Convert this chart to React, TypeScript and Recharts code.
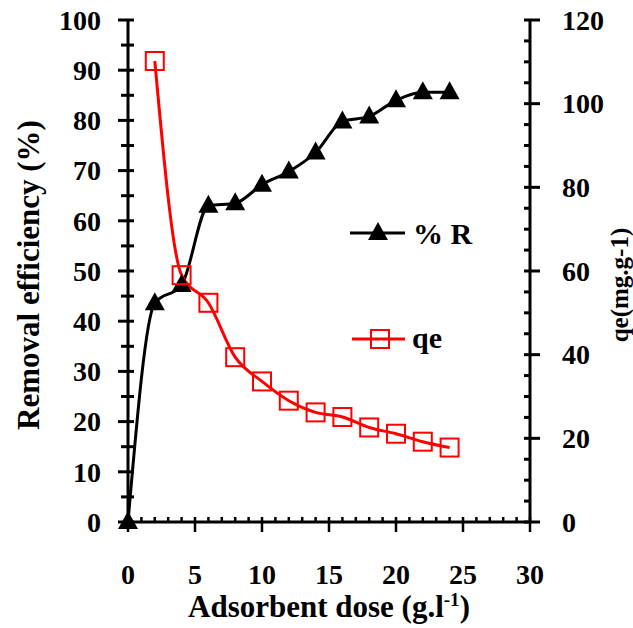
import React from "react"
import { LineChart, Line, XAxis, YAxis, Legend } from "recharts"

const dose = [0, 2, 4, 6, 8, 10, 12, 14, 16, 18, 20, 22, 24]
const removal = [0, 43.6, 47.2, 63, 63.5, 67.2, 69.8, 73.6, 79.8, 80.8, 84, 85.6, 85.6]
const qe = [null, 110.2, 59, 52.4, 39.4, 33.6, 29, 26.2, 25.1, 22.6, 21.1, 19.2, 17.8]

const xTicks = Array.from({ length: 31 }, (_, i) => i)
const leftTicks = Array.from({ length: 21 }, (_, i) => i * 5)
const rightTicks = Array.from({ length: 25 }, (_, i) => i * 5)

const data = dose.map((d, i) => ({ dose: d, pctR: removal[i], qe: qe[i] }))

const FONT = "'Liberation Serif', 'Times New Roman', serif"
const RED = "#ff0000"

const Triangle = (props: any) => {
  const { cx, cy } = props
  if (cx == null || cy == null) return null
  return <polygon points={`${cx},${cy - 11} ${cx - 10},${cy + 7} ${cx + 10},${cy + 7}`} fill="#000" />
}

const Square = (props: any) => {
  const { cx, cy } = props
  if (cx == null || cy == null) return null
  return <rect x={cx - 9} y={cy - 9} width={18} height={18} fill="none" stroke={RED} strokeWidth={2} />
}

const LeftTick = ({ x, y, payload }: any) => {
  const major = payload.value % 10 === 0
  return (
    <g>
      <line x1={major ? x - 10 : x - 7} x2={x + 6} y1={y} y2={y} stroke="#000" strokeWidth={3} />
      {major && (
        <text x={x - 27} y={y} dy="0.35em" textAnchor="end" fontFamily={FONT} fontWeight="bold" fontSize={28} fill="#000">
          {payload.value}
        </text>
      )}
    </g>
  )
}

const RightTick = ({ x, y, payload }: any) => {
  const major = payload.value % 20 === 0
  return (
    <g>
      <line x1={x - 6} x2={major ? x + 10 : x} y1={y} y2={y} stroke="#000" strokeWidth={3} />
      {major && (
        <text x={x + 32} y={y} dy="0.35em" textAnchor="start" fontFamily={FONT} fontWeight="bold" fontSize={28} fill="#000">
          {payload.value}
        </text>
      )}
    </g>
  )
}

const BottomTick = ({ x, y, payload }: any) => {
  const major = payload.value % 5 === 0
  return (
    <g>
      <line x1={x} x2={x} y1={y - 5} y2={major ? y + 10 : y} stroke="#000" strokeWidth={2.5} />
      {major && (
        <text x={x} y={y + 62} textAnchor="middle" fontFamily={FONT} fontWeight="bold" fontSize={28} fill="#000">
          {payload.value}
        </text>
      )}
    </g>
  )
}

const LegendBox = () => (
  <svg width={170} height={150}>
    <line x1={10} x2={65} y1={22} y2={22} stroke="#000" strokeWidth={3} />
    <polygon points="38,11 28,29 48,29" fill="#000" />
    <text x={73} y={33} fontFamily={FONT} fontWeight="bold" fontSize={30} fill="#000">% R</text>
    <line x1={12} x2={65} y1={128} y2={128} stroke={RED} strokeWidth={3} />
    <rect x={31} y={119} width={18} height={18} fill="none" stroke={RED} strokeWidth={2} />
    <text x={72} y={137} fontFamily={FONT} fontWeight="bold" fontSize={30} fill="#000">qe</text>
  </svg>
)

export default function App() {
  return (
    <div style={{ position: "absolute", left: 0, top: 0, width: 633, height: 628, background: "#fff" }}>
      <LineChart width={633} height={628} data={data} margin={{ top: 20, right: 0, bottom: 0, left: 0 }}>
        <XAxis
          dataKey="dose"
          type="number"
          domain={[0, 30]}
          ticks={xTicks}
          interval={0}
          height={106}
          tickSize={0}
          tickMargin={0}
          tick={<BottomTick />}
          axisLine={{ stroke: "#000", strokeWidth: 3 }}
          tickLine={false}
          label={{
            content: () => (
              <text x={329} y={617} textAnchor="middle" fontFamily={FONT} fontWeight="bold" fontSize={31} fill="#000">
                Adsorbent dose (g.l<tspan dy={-11} fontSize={19}>-1</tspan><tspan dy={11}>)</tspan>
              </text>
            ),
          }}
        />
        <YAxis
          yAxisId="left"
          orientation="left"
          domain={[0, 100]}
          ticks={leftTicks}
          interval={0}
          width={128}
          tickSize={0}
          tickMargin={0}
          tick={<LeftTick />}
          axisLine={{ stroke: "#000", strokeWidth: 3 }}
          tickLine={false}
          label={{
            content: () => (
              <text x={28} y={275} transform="rotate(-90 28 275)" dy="0.35em" textAnchor="middle" fontFamily={FONT} fontWeight="bold" fontSize={31} fill="#000">
                Removal  efficiency (%)
              </text>
            ),
          }}
        />
        <YAxis
          yAxisId="right"
          orientation="right"
          domain={[0, 120]}
          ticks={rightTicks}
          interval={0}
          width={103}
          tickSize={0}
          tickMargin={0}
          tick={<RightTick />}
          axisLine={{ stroke: "#000", strokeWidth: 3 }}
          tickLine={false}
          label={{
            content: () => (
              <text x={619} y={285} transform="rotate(-90 619 285)" dy="0.35em" textAnchor="middle" fontFamily={FONT} fontWeight="bold" fontSize={25} fill="#000">
                qe(mg.g-1)
              </text>
            ),
          }}
        />
        <Legend
          layout="horizontal"
          verticalAlign="middle"
          align="center"
          content={<LegendBox />}
          wrapperStyle={{ position: "absolute", left: 340, top: 211, width: 170, height: 150 }}
        />
        <Line
          yAxisId="left"
          type="monotone"
          dataKey="pctR"
          stroke="#000"
          strokeWidth={3}
          dot={<Triangle />}
          activeDot={false}
          isAnimationActive={false}
        />
        <Line
          yAxisId="right"
          type="monotone"
          dataKey="qe"
          stroke={RED}
          strokeWidth={3}
          dot={<Square />}
          activeDot={false}
          connectNulls
          isAnimationActive={false}
        />
      </LineChart>
    </div>
  )
}
